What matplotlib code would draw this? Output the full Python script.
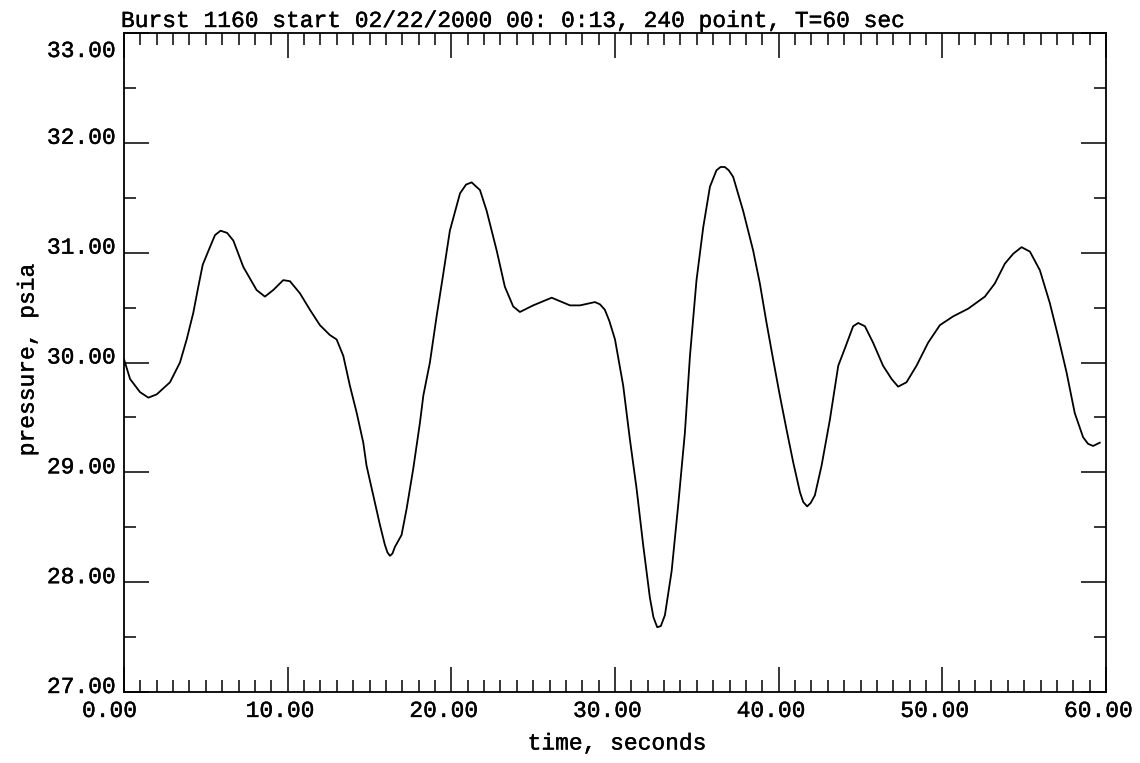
import matplotlib
matplotlib.use("Agg")
import matplotlib.pyplot as plt
import matplotlib.patheffects as pe
from matplotlib.ticker import MultipleLocator
from matplotlib.transforms import ScaledTranslation

# Data (time in s, pressure in psia)
time_s = [0.0, 0.37, 0.98, 1.49, 2.0, 2.81, 3.42, 3.83, 4.23, 4.54, 4.81, 5.25,
          5.56, 5.9, 6.3, 6.68, 7.29, 8.1, 8.61, 9.12, 9.73, 10.14, 10.75, 11.36,
          11.97, 12.58, 12.99, 13.4, 13.8, 14.22, 14.62, 14.82, 15.23, 15.64,
          15.94, 16.1, 16.25, 16.4, 16.55, 16.96, 17.27, 17.67, 18.08, 18.29,
          18.69, 19.1, 19.51, 19.91, 20.53, 20.9, 21.24, 21.75, 22.16, 22.77,
          23.27, 23.78, 24.19, 25.0, 26.13, 27.25, 27.86, 28.77, 29.08, 29.38,
          29.65, 30.0, 30.5, 30.91, 31.32, 31.72, 32.13, 32.35, 32.58, 32.8,
          33.05, 33.46, 33.86, 34.27, 34.58, 34.98, 35.39, 35.8, 36.2, 36.45,
          36.71, 36.95, 37.22, 37.83, 38.44, 38.85, 39.26, 39.66, 40.07, 40.48,
          40.89, 41.3, 41.5, 41.74, 41.95, 42.21, 42.62, 43.13, 43.64, 44.1,
          44.55, 44.86, 45.27, 45.77, 46.38, 46.9, 47.3, 47.81, 48.42, 49.13,
          49.85, 50.66, 51.58, 52.6, 53.21, 53.82, 54.33, 54.84, 55.35, 55.96,
          56.57, 57.07, 57.59, 58.09, 58.6, 58.9, 59.21, 59.62]
pressure_psia = [30.03, 29.85, 29.73, 29.68, 29.71, 29.82, 30.0, 30.21, 30.45,
                 30.69, 30.89, 31.05, 31.16, 31.20, 31.18, 31.11, 30.87, 30.66,
                 30.60, 30.66, 30.75, 30.74, 30.63, 30.48, 30.34, 30.25, 30.21,
                 30.06, 29.79, 29.54, 29.27, 29.06, 28.79, 28.52, 28.34, 28.27,
                 28.24, 28.26, 28.32, 28.43, 28.67, 29.03, 29.45, 29.70, 30.0,
                 30.42, 30.81, 31.20, 31.54, 31.62, 31.64, 31.57, 31.38, 31.02,
                 30.69, 30.51, 30.46, 30.52, 30.59, 30.52, 30.52, 30.55, 30.53,
                 30.48, 30.38, 30.21, 29.79, 29.30, 28.85, 28.34, 27.86, 27.68,
                 27.59, 27.60, 27.70, 28.10, 28.70, 29.36, 30.06, 30.75, 31.23,
                 31.60, 31.75, 31.78, 31.78, 31.75, 31.69, 31.38, 31.02, 30.72,
                 30.36, 30.03, 29.70, 29.39, 29.09, 28.82, 28.73, 28.69, 28.72,
                 28.79, 29.06, 29.48, 29.97, 30.15, 30.33, 30.36, 30.33, 30.18,
                 29.97, 29.85, 29.78, 29.82, 29.97, 30.18, 30.34, 30.42, 30.49,
                 30.60, 30.72, 30.90, 30.99, 31.05, 31.01, 30.84, 30.54, 30.24,
                 29.91, 29.54, 29.32, 29.26, 29.24, 29.27]

x_ticks = [0, 10, 20, 30, 40, 50, 60]
x_tick_labels = ["0.00", "10.00", "20.00", "30.00", "40.00", "50.00", "60.00"]
y_ticks = [27, 28, 29, 30, 31, 32, 33]
y_tick_labels = ["27.00", "28.00", "29.00", "30.00", "31.00", "32.00", "33.00"]

title = "Burst 1160 start 02/22/2000 00: 0:13, 240 point, T=60 sec"
xlabel = "time, seconds"
ylabel = "pressure, psia"

FONT = "Liberation Mono"
FS = 16.5
FW = "normal"
EFF = [pe.withStroke(linewidth=0.3, foreground="black")]

fig = plt.figure(figsize=(11.4, 7.63), dpi=100)
ax = fig.add_axes([124 / 1140, 1 - 692 / 763, (1106 - 124) / 1140, (692 - 33) / 763])

ax.plot(time_s, pressure_psia, color="black", lw=1.3)

ax.set_xlim(0, 60)
ax.set_ylim(27, 33)

for sp in ax.spines.values():
    sp.set_linewidth(1.3)
    sp.set_color("black")

ax.xaxis.set_minor_locator(MultipleLocator(1))
ax.yaxis.set_minor_locator(MultipleLocator(0.5))
ax.tick_params(which="both", direction="in", top=True, right=True,
               bottom=True, left=True, width=1.1, color="black")
ax.tick_params(which="major", length=18)
ax.tick_params(which="minor", length=8.5)

ax.set_xticks(x_ticks)
ax.set_xticklabels(x_tick_labels, fontfamily=FONT, fontsize=FS, fontweight=FW)
ax.set_yticks(y_ticks)
ax.set_yticklabels(y_tick_labels, fontfamily=FONT, fontsize=FS, fontweight=FW)
ax.tick_params(axis="x", which="major", pad=5)
ax.tick_params(axis="y", which="major", pad=6)

dpi = fig.dpi
for lab in ax.get_xticklabels():
    lab.set_horizontalalignment("left")
    lab.set_path_effects(EFF)
    lab.set_transform(lab.get_transform() + ScaledTranslation(-42 / dpi, 0, fig.dpi_scale_trans))
for lab in ax.get_yticklabels():
    lab.set_verticalalignment("baseline")
    lab.set_path_effects(EFF)
    dy = -1 / dpi
    if lab.get_text() == "33.00":
        dy = -24 / dpi
    lab.set_transform(lab.get_transform() + ScaledTranslation(0, dy, fig.dpi_scale_trans))

fig.text(121 / 1140, 1 - 27 / 763, title, fontfamily=FONT, fontsize=FS,
         fontweight=FW, ha="left", va="baseline", path_effects=EFF)
fig.text(617 / 1140, 1 - 743 / 763, xlabel, fontfamily=FONT, fontsize=FS,
         fontweight=FW, ha="center", va="center", path_effects=EFF)
fig.text(27 / 1140, 1 - 360 / 763, ylabel, fontfamily=FONT, fontsize=FS,
         fontweight=FW, ha="center", va="center", rotation=90, path_effects=EFF)

fig.savefig("out.png", dpi=100, facecolor="white")
